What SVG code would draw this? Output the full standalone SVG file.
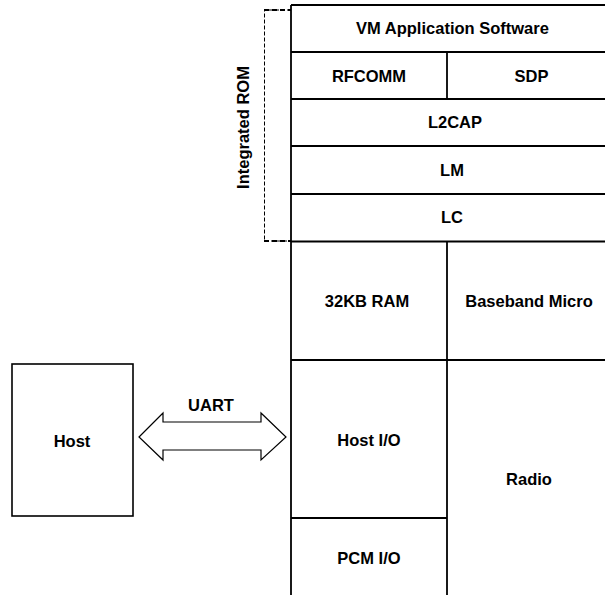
<svg xmlns="http://www.w3.org/2000/svg" width="605" height="595" viewBox="0 0 605 595">
<style>
text{font-family:"Liberation Sans",Arial,sans-serif;font-weight:bold;font-size:16.5px;fill:#000;text-anchor:middle;dominant-baseline:central}
.ln{stroke:#000;stroke-width:1.8;fill:none}
.box{stroke:#000;stroke-width:1.6;fill:#fff}
</style>
<rect width="605" height="595" fill="#fff"/>
<g id="stack-grid">
<line class="ln" x1="291" y1="5" x2="291" y2="595"/>
<line class="ln" x1="291" y1="5" x2="616" y2="5"/>
<line class="ln" x1="291" y1="52" x2="616" y2="52"/>
<line class="ln" x1="291" y1="99" x2="616" y2="99"/>
<line class="ln" x1="291" y1="146" x2="616" y2="146"/>
<line class="ln" x1="291" y1="194" x2="616" y2="194"/>
<line class="ln" x1="291" y1="241.5" x2="616" y2="241.5"/>
<line class="ln" x1="447" y1="52" x2="447" y2="99"/>
<line class="ln" x1="447" y1="241.5" x2="447" y2="595"/>
<line class="ln" x1="291" y1="360" x2="616" y2="360"/>
<line class="ln" x1="291" y1="518" x2="447" y2="518"/>
</g>
<g id="vm"><text x="452.5" y="28">VM Application Software</text></g>
<g id="rfcomm"><text x="369" y="76">RFCOMM</text></g>
<g id="sdp"><text x="531.5" y="76">SDP</text></g>
<g id="l2cap"><text x="455" y="122">L2CAP</text></g>
<g id="lm"><text x="452" y="170">LM</text></g>
<g id="lc"><text x="452" y="217">LC</text></g>
<g id="ram"><text x="367" y="301">32KB RAM</text></g>
<g id="baseband"><text x="529" y="301">Baseband Micro</text></g>
<g id="hostio"><text x="369" y="440">Host I/O</text></g>
<g id="radio"><text x="529" y="479">Radio</text></g>
<g id="pcmio"><text x="369" y="558">PCM I/O</text></g>
<g id="rom">
<path d="M291 10H264.5V241H291" fill="none" stroke="#000" stroke-width="1" stroke-dasharray="4,2"/>
<line x1="264" y1="10" x2="291" y2="10" stroke="#000" stroke-width="2" stroke-dasharray="5,3"/>
<line x1="264" y1="241" x2="291" y2="241" stroke="#000" stroke-width="2" stroke-dasharray="5,3"/>
<text x="243" y="127.5" transform="rotate(-90 243 127.5)">Integrated ROM</text>
</g>
<g id="host">
<rect class="box" x="12" y="364" width="121" height="152"/>
<text x="72" y="441">Host</text>
</g>
<g id="connectors">
<path d="M139 437L163 413V422H261V413L286 437L261 460V450H163V460Z" fill="#fff" stroke="#000" stroke-width="1.2"/>
<text x="211" y="405">UART</text>
</g>
</svg>
